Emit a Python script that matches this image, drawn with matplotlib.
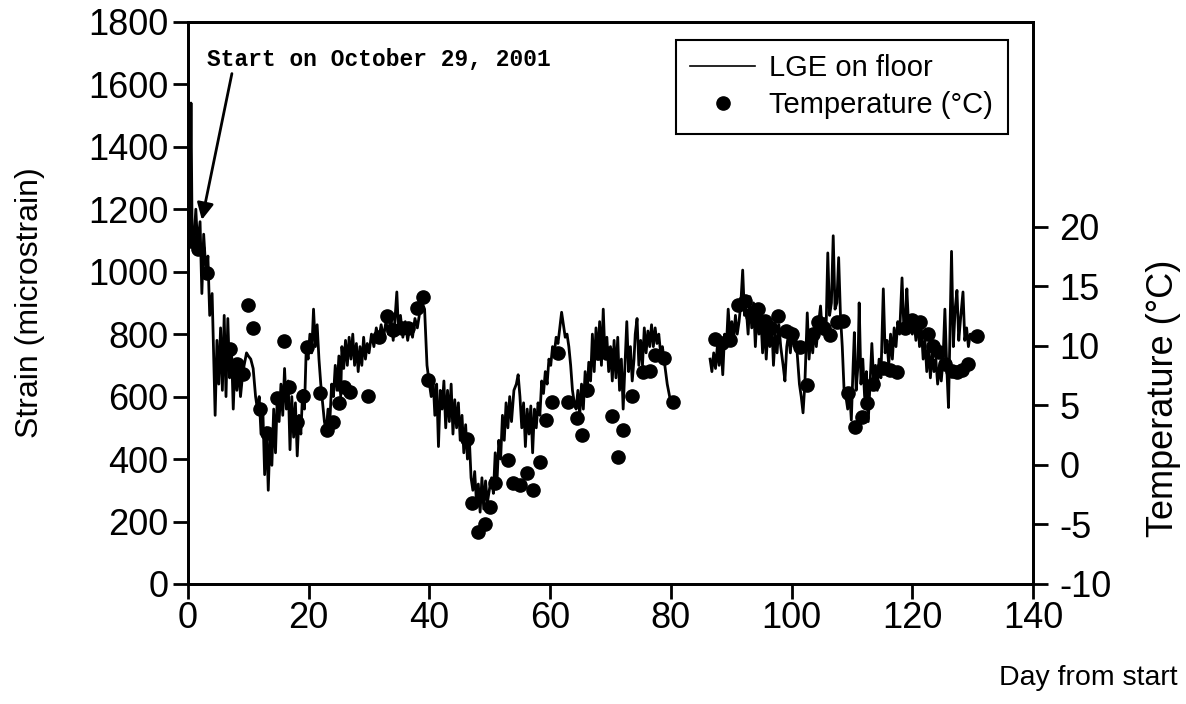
import numpy as np
import matplotlib.pyplot as plt

# strain gauge readings (LGE on floor)
strain_day = [
    0.0, 0.15, 0.3, 0.5, 0.7, 1.0, 1.3, 1.6, 2.0, 2.3, 2.6, 3.0, 3.3, 3.6, 4.0, 4.3, 4.5, 4.8,
    5.1, 5.4, 5.7, 6.0, 6.3, 6.6, 6.9, 7.2, 7.5, 7.8, 8.1, 8.4, 8.7, 9.0, 9.3, 9.7, 10.0, 10.4,
    10.8, 11.2, 11.5, 11.8, 12.1, 12.4, 12.7, 13.0, 13.3, 13.6, 13.9, 14.2, 14.5, 14.8, 15.1,
    15.4, 15.7, 16.0, 16.3, 16.6, 16.9, 17.2, 17.5, 17.8, 18.1, 18.4, 18.7, 19.0, 19.3, 19.6,
    19.9, 20.2, 20.5, 20.8, 21.1, 21.4, 21.7, 22.0, 22.3, 22.6, 22.9, 23.2, 23.5, 23.8, 24.1,
    24.4, 24.7, 25.0, 25.3, 25.5, 25.8, 26.1, 26.4, 26.7, 27.0, 27.3, 27.6, 27.9, 28.2, 28.5,
    28.8, 29.1, 29.4, 29.7, 30.0, 30.4, 30.8, 31.2, 31.6, 32.0, 32.4, 32.8, 33.2, 33.6, 34.0,
    34.3, 34.6, 34.9, 35.2, 35.6, 36.0, 36.4, 36.8, 37.2, 37.6, 38.0, 38.4, 38.8, 39.2, 39.6,
    40.0, 40.3, 40.6, 40.9, 41.2, 41.5, 41.8, 42.1, 42.4, 42.7, 43.0, 43.3, 43.6, 43.9, 44.2,
    44.5, 44.8, 45.1, 45.4, 45.7, 46.0, 46.3, 46.6, 46.9, 47.2, 47.5, 47.8, 48.1, 48.4, 48.7,
    49.0, 49.3, 49.6, 50.0, 50.3, 50.6, 50.9, 51.2, 51.5, 51.8, 52.1, 52.4, 52.7, 53.0, 53.3,
    53.6, 54.0, 54.4, 54.7, 55.0, 55.3, 55.6, 55.9, 56.2, 56.5, 56.8, 57.1, 57.4, 57.7, 58.0,
    58.3, 58.6, 58.9, 59.2, 59.5, 59.8, 60.1, 60.4, 60.7, 61.0, 61.3, 61.6, 61.9, 62.2, 62.5,
    62.8, 63.1, 63.4, 63.7, 64.0, 64.3, 64.6, 64.9, 65.2, 65.5, 65.8, 66.1, 66.4, 66.7, 67.0,
    67.3, 67.6, 67.9, 68.2, 68.5, 68.8, 69.1, 69.4, 69.7, 70.0, 70.3, 70.6, 70.9, 71.2, 71.5,
    71.8, 72.1, 72.4, 72.7, 73.0, 73.3, 73.6, 73.9, 74.1, 74.4, 74.7, 75.0, 75.3, 75.6, 75.9,
    76.2, 76.5, 76.8, 77.1, 77.4, 77.7, 78.0, 78.3, 78.6, 79.0, 79.4, 79.8, 80.1,
    83.0,  # no data between day 80 and 86
    86.5, 86.8, 87.1, 87.4, 87.7, 88.0, 88.3, 88.6, 88.9, 89.2, 89.5, 89.8, 90.1, 90.4, 90.7,
    91.0, 91.3, 91.6, 91.9, 92.2, 92.5, 92.8, 93.1, 93.4, 93.7, 94.0, 94.3, 94.6, 94.9, 95.2,
    95.5, 95.8, 96.1, 96.4, 96.7, 97.0, 97.3, 97.6, 97.9, 98.2, 98.6, 98.9, 99.2, 99.5, 99.8,
    100.1, 100.4, 100.7, 101.0, 101.3, 101.6, 101.9, 102.2, 102.6, 102.9, 103.2, 103.5, 103.8,
    104.1, 104.5, 104.8, 105.1, 105.4, 105.7, 106.0, 106.3, 106.6, 106.9, 107.2, 107.5, 107.8,
    108.1, 108.4, 108.7, 109.0, 109.3, 109.6, 109.9, 110.2, 110.4, 110.7, 111.0, 111.2, 111.5,
    111.8, 112.1, 112.4, 112.7, 113.0, 113.3, 113.6, 113.9, 114.2, 114.5, 114.8, 115.2, 115.5,
    115.8, 116.1, 116.4, 116.7, 117.0, 117.3, 117.6, 117.9, 118.3, 118.6, 118.9, 119.1, 119.4,
    119.7, 120.0, 120.3, 120.6, 120.9, 121.2, 121.5, 121.8, 122.1, 122.4, 122.7, 123.0, 123.3,
    123.6, 123.9, 124.2, 124.5, 124.8, 125.1, 125.4, 125.7, 126.0, 126.5, 126.8, 127.1, 127.4,
    127.7, 128.0, 128.4, 128.7, 129.0, 129.3, 129.6, 130.0, 130.4,
]
strain = [
    1150, 1240, 1100, 1540, 1090, 1100, 1200, 1080, 1160, 930, 1120, 990, 1050, 860, 930, 700, 540, 780,
    640, 820, 620, 860, 600, 850, 660, 760, 560, 720, 620, 700, 600, 660, 700, 740, 730, 720,
    690, 600, 560, 600, 480, 560, 350, 500, 300, 480, 380, 560, 420, 600, 520,
    640, 540, 690, 560, 650, 430, 600, 470, 580, 410, 540, 480, 620, 560, 760,
    720, 800, 740, 880, 760, 830, 720, 640, 580, 520, 490, 560, 520, 640, 600,
    700, 620, 730, 600, 760, 690, 780, 700, 790, 720, 800, 700, 770, 680, 760,
    700, 790, 720, 770, 740, 800, 760, 820, 780, 830, 790, 840, 800, 860, 780,
    850, 935, 800, 860, 790, 840, 780, 830, 790, 850, 820, 870, 900, 880, 700,
    640, 600, 660, 540, 640, 440, 620, 560, 650, 500, 620, 520, 640, 480, 590,
    500, 580, 460, 540, 420, 510, 400, 470, 340, 300, 360, 260, 320, 230, 340,
    240, 330, 260, 310, 340, 290, 420, 330, 460, 400, 540, 460, 580, 500, 600,
    520, 620, 640, 670, 600, 500, 580, 440, 560, 480, 570, 420, 560, 500, 580,
    540, 650, 610, 680, 640, 720, 700, 760, 740, 790, 770, 820, 870, 830, 790,
    800, 760, 700, 620, 580, 560, 620, 540, 640, 560, 680, 600, 710, 650, 800,
    680, 820, 720, 840, 700, 880, 720, 790, 680, 760, 650, 780, 660, 790, 620,
    720, 560, 700, 840, 680, 760, 650, 720, 800, 850, 700, 780, 700, 820, 740,
    810, 760, 830, 760, 820, 770, 800, 740, 760, 700, 640, 600, 590,
    np.nan,
    720, 680, 740, 690, 760, 700, 770, 670, 800, 760, 880, 790, 840, 780, 860,
    800, 840, 900, 1005, 860, 880, 800, 920, 820, 900, 760, 880, 800, 860, 740,
    840, 720, 820, 760, 840, 700, 800, 740, 830, 760, 700, 650, 760, 800, 740,
    820, 760, 800, 720, 640, 600, 548, 640, 868, 720, 800, 740, 820,
    760, 840, 890, 800, 850, 800, 1060, 860, 900, 1115, 880, 900, 1045,
    860, 760, 620, 600, 560, 620, 525, 700, 805, 620, 700, 900, 640,
    720, 600, 680, 520, 640, 770, 650, 700, 620, 720, 660, 945, 740,
    780, 700, 800, 720, 820, 760, 840, 800, 980, 820, 860, 945, 820,
    860, 800, 840, 780, 850, 760, 820, 720, 780, 680, 760, 660, 740,
    680, 720, 640, 700, 650, 720, 880, 700, 565, 1065, 760, 880, 940,
    780, 850, 935, 780, 820, 760, 800, 780, 800,
]

# daily air temperature (degrees C)
temp_day = [
    0.5, 1.7, 3.1, 7.0, 8.1, 9.1, 9.9, 10.8, 11.9, 13.1, 14.8, 15.9, 16.8, 18.1, 19.0, 19.7,
    21.8, 23.0, 24.0, 25.0, 25.8, 26.8, 29.8, 31.7, 32.9, 34.0, 35.5, 36.5, 37.9, 38.9, 39.8,
    46.2, 47.0, 48.1, 49.2, 50.0, 50.9, 53.0, 53.9, 55.0, 56.1, 57.2, 58.3, 59.3, 60.3, 61.3,
    63.0, 64.4, 65.3, 66.1, 67.9, 69.5, 70.3, 71.2, 72.1, 73.5, 75.4, 76.5, 77.4, 78.8, 80.4,
    87.3, 88.5, 89.8, 91.1, 92.3, 93.4, 94.4, 95.6, 96.6, 97.7, 99.0, 100.0, 101.4, 102.5,
    103.5, 104.4, 105.4, 106.4, 107.5, 108.5, 109.3, 110.5, 111.7, 112.5, 113.5, 115.1, 116.3,
    117.5, 118.8, 120.0, 121.3, 122.6, 123.5, 124.5, 125.5, 126.5, 127.4, 128.3, 129.2, 130.7,
]
temp = [
    18.8, 18.1, 16.1, 9.7, 8.5, 7.6, 13.4, 11.5, 4.7, 2.7, 5.6, 10.4, 6.5, 3.6, 5.8, 9.9,
    6.0, 2.9, 3.6, 5.2, 6.5, 6.1, 5.8, 10.7, 12.5, 11.3, 11.5, 11.5, 13.2, 14.1, 7.1,
    2.2, -3.2, -5.6, -5.0, -3.5, -1.5, 0.4, -1.5, -1.7, -0.7, -2.1, 0.2, 3.8, 5.3, 9.4,
    5.3, 3.9, 2.5, 6.3, 9.4, 9.4, 4.1, 0.7, 2.9, 5.8, 7.8, 7.9, 9.2, 9.0, 5.3,
    10.6, 10.2, 10.5, 13.4, 13.8, 12.5, 13.1, 12.1, 11.5, 12.5, 11.2, 11.0, 9.9, 6.7,
    11.0, 12.0, 11.5, 10.9, 12.0, 12.1, 6.0, 3.2, 4.0, 5.2, 6.8, 8.1, 8.0,
    7.8, 11.5, 12.2, 12.0, 11.0, 10.0, 9.5, 8.5, 7.9, 7.8, 8.0, 8.5, 10.8,
]

plt.rcParams['font.family'] = ['Liberation Sans', 'DejaVu Sans']
plt.rcParams['axes.unicode_minus'] = False

fig = plt.figure(figsize=(11.86, 7.04), dpi=100)
ax = fig.add_axes([0.1585, 0.1705, 0.7125, 0.7985])
ax2 = ax.twinx()

ln, = ax.plot(strain_day, strain, color='black', lw=2, label='LGE on floor')
pts, = ax2.plot(temp_day, temp, 'o', color='black', ms=9.5, label='Temperature (°C)')

ax.set_xlim(0, 140)
ax.set_ylim(0, 1800)
ax.set_xticks(range(0, 141, 20))
ax.set_yticks(range(0, 1801, 200))
ax2.set_ylim(-10, 37.2)
ax2.set_yticks(range(-10, 21, 5))

for a in (ax, ax2):
    for s in a.spines.values():
        s.set_linewidth(2)
    a.tick_params(direction='out', length=11, width=2, labelsize=26)
ax.tick_params(axis='x', pad=1)
ax.tick_params(axis='y', pad=3)
ax2.tick_params(axis='y', pad=8)

ax.set_ylabel('Strain (microstrain)', fontsize=23, va='center')
ax.yaxis.set_label_coords(-0.187, 0.5)
ax.set_xlabel('Day from start', fontsize=20.5, ha='right')
ax.xaxis.set_label_coords(1.1716, -0.145)
ax2.set_ylabel('Temperature (°C)', fontsize=26, va='center')
ax2.yaxis.set_label_coords(1.154, 0.33)

ax.annotate('Start on October 29, 2001', xy=(2.3, 1166), xytext=(3.1, 1680),
            fontsize=16.5, family='Liberation Mono', weight='bold', va='center',
            arrowprops=dict(arrowstyle='-|>', color='black', lw=2,
                            mutation_scale=25, shrinkA=0, shrinkB=0,
                            relpos=(0.075, 0.0)))

leg = ax.legend([ln, pts], ['LGE on floor', 'Temperature (°C)'], loc='upper right',
                bbox_to_anchor=(0.97, 0.968), borderaxespad=0, fontsize=21,
                fancybox=False, framealpha=1, edgecolor='black', handlelength=2.2,
                borderpad=0.5, labelspacing=0.3, handletextpad=0.5)
leg.get_frame().set_linewidth(1.5)
leg.get_lines()[0].set_linewidth(1.2)

fig.savefig('out.png', dpi=100)
